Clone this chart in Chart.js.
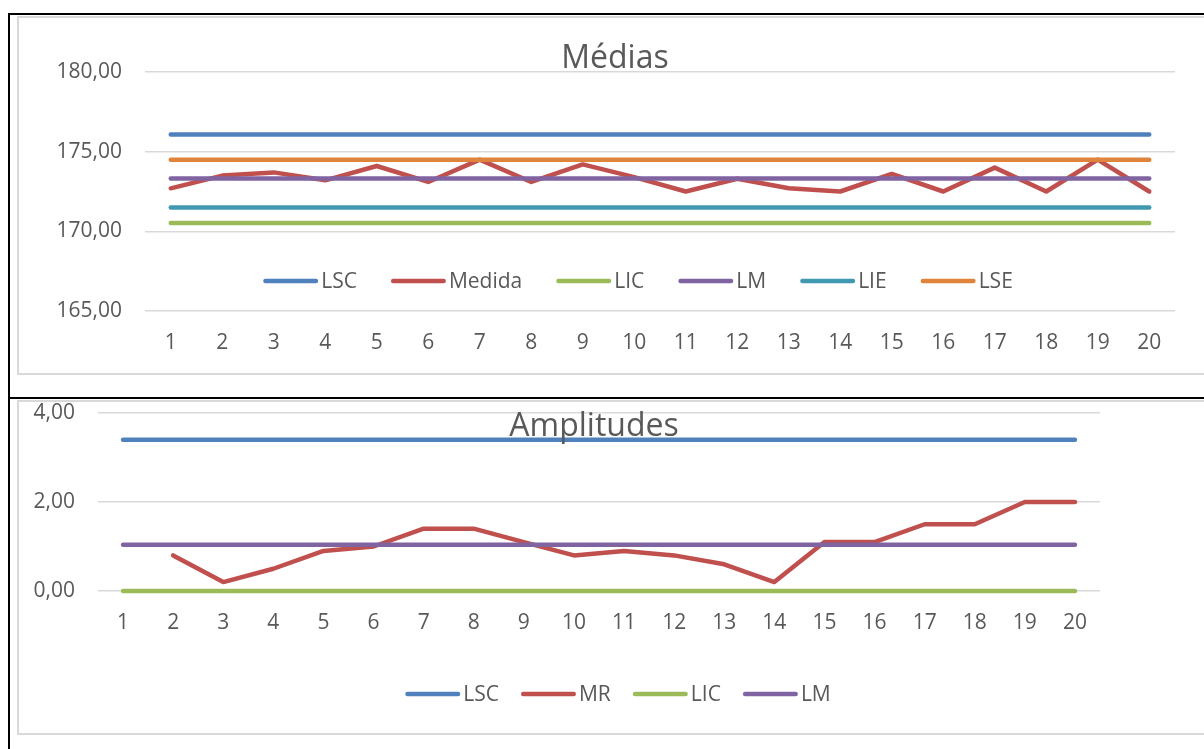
<!DOCTYPE html>
<html lang="pt">
<head>
<meta charset="utf-8">
<title>Médias e Amplitudes</title>
<script src="https://cdn.jsdelivr.net/npm/chart.js@4.4.1/dist/chart.umd.min.js"></script>
<style>
  html, body { margin: 0; padding: 0; background: #fff; overflow: hidden; width: 1204px; height: 749px; }
  .rule { position: absolute; background: #000; }
  .box { position: absolute; border: 2px solid #d9d9d9; border-right: none; box-sizing: border-box; }
  canvas { position: absolute; }
</style>
</head>
<body>
<!-- table cell borders -->
<div class="rule" style="left:8px;top:13px;width:1196px;height:2px"></div>
<div class="rule" style="left:8px;top:13px;width:2px;height:736px"></div>
<div class="rule" style="left:8px;top:397px;width:1196px;height:2px"></div>
<!-- chart frames -->
<div class="box" style="left:17px;top:16px;width:1250px;height:359px"></div>
<div class="box" style="left:17px;top:400px;width:1250px;height:335px"></div>
<canvas id="medias" width="1187" height="358" style="left:17px;top:16px"></canvas>
<canvas id="amplitudes" width="1187" height="334" style="left:17px;top:400px"></canvas>

<script>
// Amostras (eixo X)
const amostras = ['1','2','3','4','5','6','7','8','9','10','11','12','13','14','15','16','17','18','19','20'];

// Carta das médias
const medida   = [172.7, 173.5, 173.7, 173.2, 174.1, 173.1, 174.5, 173.1, 174.2, 173.4,
                  172.5, 173.3, 172.7, 172.5, 173.6, 172.5, 174.0, 172.5, 174.5, 172.5];
const lscMedias = [176.08, 176.08, 176.08, 176.08, 176.08, 176.08, 176.08, 176.08, 176.08, 176.08,
                   176.08, 176.08, 176.08, 176.08, 176.08, 176.08, 176.08, 176.08, 176.08, 176.08];
const licMedias = [170.53, 170.53, 170.53, 170.53, 170.53, 170.53, 170.53, 170.53, 170.53, 170.53,
                   170.53, 170.53, 170.53, 170.53, 170.53, 170.53, 170.53, 170.53, 170.53, 170.53];
const lmMedias  = [173.31, 173.31, 173.31, 173.31, 173.31, 173.31, 173.31, 173.31, 173.31, 173.31,
                   173.31, 173.31, 173.31, 173.31, 173.31, 173.31, 173.31, 173.31, 173.31, 173.31];
const lie       = [171.5, 171.5, 171.5, 171.5, 171.5, 171.5, 171.5, 171.5, 171.5, 171.5,
                   171.5, 171.5, 171.5, 171.5, 171.5, 171.5, 171.5, 171.5, 171.5, 171.5];
const lse       = [174.5, 174.5, 174.5, 174.5, 174.5, 174.5, 174.5, 174.5, 174.5, 174.5,
                   174.5, 174.5, 174.5, 174.5, 174.5, 174.5, 174.5, 174.5, 174.5, 174.5];
const ticksMedias = [165, 170, 175, 180];

// Carta das amplitudes móveis
const mr       = [null, 0.8, 0.2, 0.5, 0.9, 1.0, 1.4, 1.4, 1.1, 0.8,
                  0.9, 0.8, 0.6, 0.2, 1.1, 1.1, 1.5, 1.5, 2.0, 2.0];
const lscAmp   = [3.40, 3.40, 3.40, 3.40, 3.40, 3.40, 3.40, 3.40, 3.40, 3.40,
                  3.40, 3.40, 3.40, 3.40, 3.40, 3.40, 3.40, 3.40, 3.40, 3.40];
const licAmp   = [0, 0, 0, 0, 0, 0, 0, 0, 0, 0, 0, 0, 0, 0, 0, 0, 0, 0, 0, 0];
const lmAmp    = [1.04, 1.04, 1.04, 1.04, 1.04, 1.04, 1.04, 1.04, 1.04, 1.04,
                  1.04, 1.04, 1.04, 1.04, 1.04, 1.04, 1.04, 1.04, 1.04, 1.04];
const ticksAmp = [0, 2, 4];

const COR = {
  azul: '#4f81bd', vermelho: '#c0504d', verde: '#9bbb59',
  roxo: '#8064a2', turquesa: '#4198b1', laranja: '#e0843c'
};
const TEXTO = '#595959';
const GRELHA = '#d9d9d9';
const FONTE = '"Open Sans", "DejaVu Sans", sans-serif';

Chart.defaults.font.family = FONTE;
Chart.defaults.color = TEXTO;

// Title and legend drawn over the plot area, Excel style
const sobreposicao = {
  id: 'sobreposicao',
  afterDatasetsDraw(chart, args, o) {
    const ctx = chart.ctx;
    ctx.save();
    ctx.fillStyle = TEXTO;
    ctx.font = `${o.titleSize}px ${FONTE}`;
    ctx.textAlign = 'center';
    ctx.textBaseline = 'alphabetic';
    ctx.fillText(o.title, o.titleX, o.titleY);

    ctx.font = `${o.legendSize}px ${FONTE}`;
    ctx.textBaseline = 'middle';
    ctx.textAlign = 'left';
    const ds = chart.data.datasets;
    const larg = ds.map(d => o.lineLen + o.textGap + ctx.measureText(d.label).width);
    const total = larg.reduce((a, b) => a + b, 0) + o.itemGap * (ds.length - 1);
    let x = o.legendX - total / 2;
    ds.forEach((d, i) => {
      ctx.strokeStyle = d.borderColor;
      ctx.lineWidth = d.borderWidth;
      ctx.lineCap = 'round';
      ctx.beginPath();
      ctx.moveTo(x + d.borderWidth / 2, o.legendY);
      ctx.lineTo(x + o.lineLen - d.borderWidth / 2, o.legendY);
      ctx.stroke();
      ctx.fillStyle = TEXTO;
      ctx.fillText(d.label, x + o.lineLen + o.textGap, o.legendY + 1);
      x += larg[i] + o.itemGap;
    });
    ctx.restore();
  }
};

function serie(label, data, cor, ordem) {
  return {
    label, data, borderColor: cor, backgroundColor: cor,
    borderWidth: 4.5, pointRadius: 0, pointHoverRadius: 0,
    borderCapStyle: 'round', borderJoinStyle: 'round',
    tension: 0, fill: false, clip: false, order: ordem, spanGaps: false
  };
}

const virgula = v => Number(v).toFixed(2).replace('.', ',');

function opcoes(min, max, passo, ticksY, yWidth, xHeight, padding, over) {
  return {
    responsive: false,
    animation: false,
    events: [],
    layout: { padding },
    plugins: { legend: { display: false }, title: { display: false }, tooltip: { enabled: false }, sobreposicao: over },
    scales: {
      x: {
        offset: true,
        grid: { display: false, drawTicks: false },
        border: { display: false },
        ticks: { font: { size: 21 }, color: TEXTO, padding: 19, maxRotation: 0, autoSkip: false },
        afterFit(s) { s.height = xHeight; s.paddingLeft = 0; s.paddingRight = 0; }
      },
      y: {
        min, max,
        grid: { color: GRELHA, lineWidth: 1.5, drawTicks: false },
        border: { display: false },
        ticks: { stepSize: passo, font: { size: 21 }, color: TEXTO, padding: 23, callback: virgula },
        afterBuildTicks(s) { s.ticks = ticksY.map(v => ({ value: v })); },
        afterFit(s) { s.width = yWidth; s.paddingTop = 0; s.paddingBottom = 0; }
      }
    }
  };
}

function desenhar() {
  new Chart(document.getElementById('medias'), {
    type: 'line',
    data: {
      labels: amostras,
      datasets: [
        serie('LSC', lscMedias, COR.azul, 6),
        serie('Medida', medida, COR.vermelho, 5),
        serie('LIC', licMedias, COR.verde, 4),
        serie('LM', lmMedias, COR.roxo, 3),
        serie('LIE', lie, COR.turquesa, 2),
        serie('LSE', lse, COR.laranja, 1)
      ]
    },
    options: opcoes(165, 180, 5, ticksMedias, 128, 63, { top: 56, right: 29, bottom: 0, left: 0 }, {
      title: 'Médias', titleSize: 32, titleX: 598, titleY: 52,
      legendSize: 21, legendX: 621, legendY: 265, lineLen: 55, textGap: 3, itemGap: 34
    }),
    plugins: [sobreposicao]
  });

  new Chart(document.getElementById('amplitudes'), {
    type: 'line',
    data: {
      labels: amostras,
      datasets: [
        serie('LSC', lscAmp, COR.azul, 4),
        serie('MR', mr, COR.vermelho, 3),
        serie('LIC', licAmp, COR.verde, 2),
        serie('LM', lmAmp, COR.roxo, 1)
      ]
    },
    options: opcoes(0, 4, 2, ticksAmp, 81, 143, { top: 13, right: 104, bottom: 0, left: 0 }, {
      title: 'Amplitudes', titleSize: 32, titleX: 577, titleY: 36,
      legendSize: 21, legendX: 601, legendY: 294, lineLen: 55, textGap: 3, itemGap: 22
    }),
    plugins: [sobreposicao]
  });
}

if (document.fonts && document.fonts.load) {
  Promise.all([document.fonts.load('21px "Open Sans"'), document.fonts.load('32px "Open Sans"')])
    .then(desenhar, desenhar);
} else {
  desenhar();
}
</script>
</body>
</html>
